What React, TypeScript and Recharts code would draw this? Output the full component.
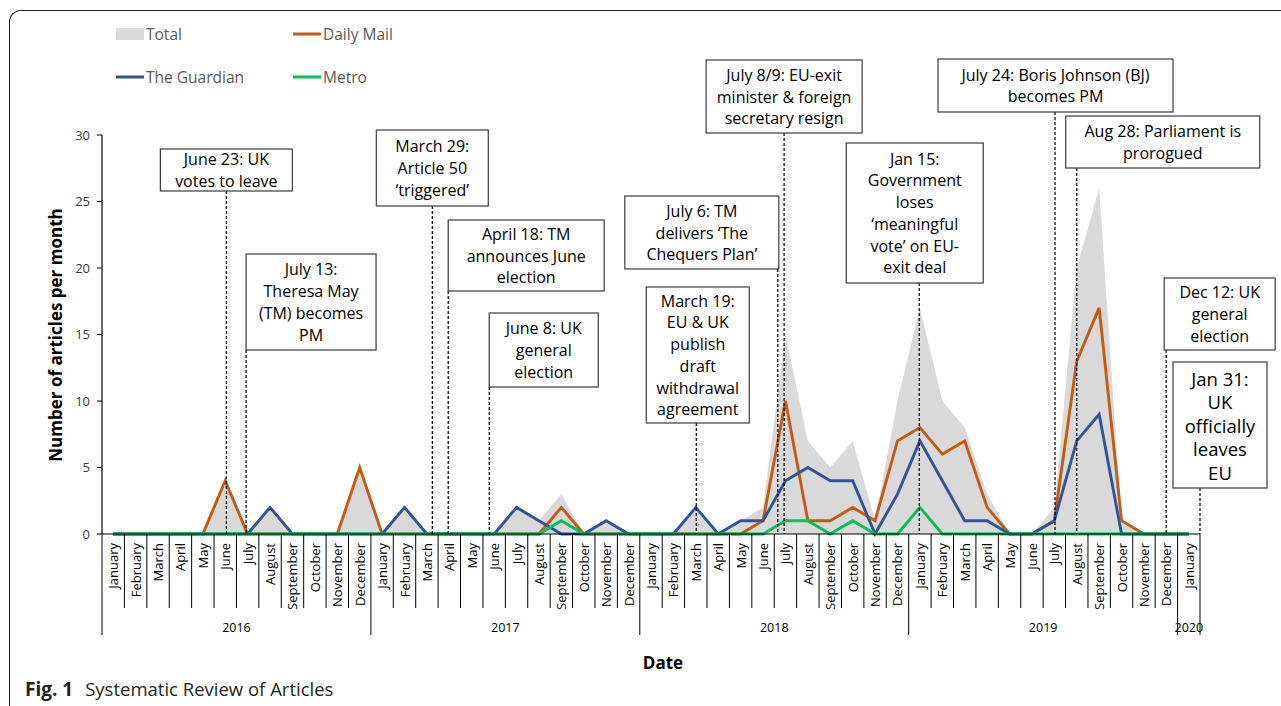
import React from 'react'
import { ComposedChart, Area, Line, XAxis, YAxis, ReferenceLine } from 'recharts'

const MONTH_NAMES = [
  'January', 'February', 'March', 'April', 'May', 'June',
  'July', 'August', 'September', 'October', 'November', 'December',
]
const YEARS = ['2016', '2017', '2018', '2019', '2020']

// one category per month, January 2016 .. January 2020
const MONTHS = YEARS.flatMap((year, yi) =>
  (yi < YEARS.length - 1 ? MONTH_NAMES : MONTH_NAMES.slice(0, 1)).map(month => ({ month, year }))
)

//                2016                          2017                          2018                              2019                              2020
const TOTAL      = [0,0,0,0,0,4,0,2,0,0,0,5,   0,2,0,0,0,0,2,1,3,0,1,0,   0,0,2,0,1,2,15,7,5,7,1,10,   17,10,8,3,0,0,2,20,26,1,0,0,   0]
const DAILY_MAIL = [0,0,0,0,0,4,0,0,0,0,0,5,   0,0,0,0,0,0,0,0,2,0,0,0,   0,0,0,0,0,1,10,1,1,2,1,7,    8,6,7,2,0,0,1,13,17,1,0,0,     0]
const GUARDIAN   = [0,0,0,0,0,0,0,2,0,0,0,0,   0,2,0,0,0,0,2,1,0,0,1,0,   0,0,2,0,1,1,4,5,4,4,0,3,     7,4,1,1,0,0,1,7,9,0,0,0,       0]
const METRO      = [0,0,0,0,0,0,0,0,0,0,0,0,   0,0,0,0,0,0,0,0,1,0,0,0,   0,0,0,0,0,0,1,1,0,1,0,0,     2,0,0,0,0,0,0,0,0,0,0,0,       0]

const Y_TICKS = [0, 5, 10, 15, 20, 25, 30]

const SERIES = [
  { key: 'total', label: 'Total', color: '#d9d9d9' },
  { key: 'dailyMail', label: 'Daily Mail', color: '#c55a11' },
  { key: 'guardian', label: 'The Guardian', color: '#2f5597' },
  { key: 'metro', label: 'Metro', color: '#00c05a' },
]

// event position in month units (0 = January 2016)
const EVENTS = [
  { at: 5.05, text: ['June 23: UK', 'votes to leave'] },
  { at: 5.93, text: ['July 13:', 'Theresa May', '(TM) becomes', 'PM'] },
  { at: 14.24, text: ['March 29:', 'Article 50', '\u2018triggered\u2019'] },
  { at: 14.95, text: ['April 18: TM', 'announces June', 'election'] },
  { at: 16.78, text: ['June 8: UK', 'general', 'election'] },
  { at: 26.02, text: ['March 19:', 'EU & UK', 'publish', 'draft', 'withdrawal', 'agreement'] },
  { at: 29.66, text: ['July 6: TM', 'delivers \u2018The', 'Chequers Plan\u2019'] },
  { at: 29.94, text: ['July 8/9: EU-exit', 'minister & foreign', 'secretary resign'] },
  { at: 35.97, text: ['Jan 15:', 'Government', 'loses', '\u2018meaningful', 'vote\u2019 on EU-', 'exit deal'] },
  { at: 42.03, text: ['July 24: Boris Johnson (BJ)', 'becomes PM'] },
  { at: 43.0, text: ['Aug 28: Parliament is', 'prorogued'] },
  { at: 46.99, text: ['Dec 12: UK', 'general', 'election'] },
  { at: 48.5, text: ['Jan 31:', 'UK', 'officially', 'leaves', 'EU'] },
]

// box geometry, same order as EVENTS (dx = box left relative to the dashed line)
const BOXES = [
  { dx: -66, top: 149, w: 132, h: 42 },
  { dx: 0, top: 254, w: 130, h: 96 },
  { dx: -56, top: 130, w: 112, h: 76 },
  { dx: 0, top: 220, w: 156, h: 71 },
  { dx: 0, top: 313, w: 109, h: 74 },
  { dx: -50, top: 287, w: 103, h: 136 },
  { dx: -153, top: 196, w: 154, h: 73 },
  { dx: -78, top: 60, w: 156, h: 73 },
  { dx: -73, top: 143, w: 137, h: 140 },
  { dx: -117, top: 59, w: 235, h: 53 },
  { dx: -11, top: 116, w: 194, h: 52 },
  { dx: -2, top: 278, w: 111, h: 72 },
  { dx: -27, top: 362, w: 94, h: 126, size: 18.5, lh: 23.5 },
]

const W = 1281
const H = 706
const PLOT_LEFT = 102
const PLOT_RIGHT = 1200
const PLOT_TOP = 135
const PLOT_BOTTOM = 534
const STEP = (PLOT_RIGHT - PLOT_LEFT) / MONTHS.length
const FONT = '"Open Sans", "Noto Sans", sans-serif'

const data = MONTHS.map((m, i) => ({
  i,
  total: TOTAL[i],
  dailyMail: DAILY_MAIL[i],
  guardian: GUARDIAN[i],
  metro: METRO[i],
}))

function MonthTick(props: any) {
  const { x, y, payload } = props
  const i = payload.value
  const m = MONTHS[i]
  if (!m) return null
  const left = x - STEP / 2
  const right = x + STEP / 2
  const last = i === MONTHS.length - 1
  const yearStart = i % 12 === 0
  return (
    <g>
      <line x1={left} x2={left} y1={y} y2={y + (yearStart ? 101 : 74)} stroke="#000" strokeWidth={1} />
      {last && <line x1={right} x2={right} y1={y} y2={y + 101} stroke="#000" strokeWidth={1} />}
      <text
        transform={`translate(${x},${y + 9}) rotate(-90)`}
        textAnchor="end"
        dominantBaseline="central"
        fontSize={13}
        fontFamily={FONT}
        fill="#000"
      >
        {m.month}
      </text>
      {(i % 12 === 5 || last) && (
        <text
          x={last ? x : right}
          y={y + 93}
          textAnchor="middle"
          dominantBaseline="central"
          fontSize={12.5}
          fontFamily={FONT}
          fill="#000"
        >
          {m.year}
        </text>
      )}
    </g>
  )
}

function EventMarker(props: any) {
  const { x1, y1, y2, event, box } = props
  const size = box.size || 16
  const lh = box.lh || 21.7
  const left = x1 + box.dx
  const bottom = box.top + box.h
  const cy = box.top + box.h / 2
  const n = event.text.length
  return (
    <g>
      <line
        x1={x1} x2={x1} y1={bottom} y2={Math.max(y1, y2)}
        stroke="#000" strokeWidth={1.2} strokeDasharray="3 2"
      />
      <rect x={left} y={box.top} width={box.w} height={box.h} fill="#fff" stroke="#3a3a3a" strokeWidth={1.2} />
      {event.text.map((t: string, k: number) => (
        <text
          key={k}
          x={left + box.w / 2}
          y={cy + (k - (n - 1) / 2) * lh}
          textAnchor="middle"
          dominantBaseline="central"
          fontSize={size}
          fontFamily={FONT}
          fill="#000"
        >
          {t}
        </text>
      ))}
    </g>
  )
}

function LegendBox() {
  const spots = [
    { x: 116, y: 34 },
    { x: 293, y: 34 },
    { x: 116, y: 77 },
    { x: 293, y: 77 },
  ]
  return (
    <svg width={400} height={100} style={{ position: 'absolute', left: 0, top: 0 }}>
      {SERIES.map((s, k) => {
        const p = spots[k]
        return (
          <g key={s.key}>
            {s.key === 'total' ? (
              <rect x={p.x} y={p.y - 6} width={28} height={12} fill={s.color} />
            ) : (
              <line x1={p.x} x2={p.x + 28} y1={p.y} y2={p.y} stroke={s.color} strokeWidth={3} />
            )}
            <text x={p.x + 30} y={p.y} dominantBaseline="central" fontSize={15.5} fontFamily={FONT} fill="#595959">
              {s.label}
            </text>
          </g>
        )
      })}
    </svg>
  )
}

export default function App() {
  const lines = SERIES.filter(s => s.key !== 'total')
  return (
    <div style={{ position: 'absolute', left: 0, top: 0, width: W, height: H, overflow: 'hidden', background: '#fff', fontFamily: FONT }}>
      <div
        style={{
          position: 'absolute', left: 9, top: 10, width: 1400, height: 900,
          borderTop: '1.5px solid #1a1a1a', borderLeft: '1.5px solid #1a1a1a', borderTopLeftRadius: 12,
        }}
      />
      <div style={{ position: 'absolute', left: 0, top: 0 }}>
        <ComposedChart
          width={W}
          height={H}
          data={data}
          margin={{ top: PLOT_TOP, right: W - PLOT_RIGHT, bottom: 0, left: 0 }}
        >
          <XAxis
            dataKey="i"
            type="number"
            domain={[-0.5, MONTHS.length - 0.5]}
            allowDataOverflow
            ticks={MONTHS.map((_, i) => i)}
            interval={0}
            height={H - PLOT_BOTTOM}
            tickLine={false}
            tickSize={0}
            tickMargin={0}
            axisLine={{ stroke: '#000', strokeWidth: 1 }}
            tick={<MonthTick />}
          />
          <YAxis
            domain={[0, 30]}
            ticks={Y_TICKS}
            width={PLOT_LEFT}
            tickSize={5}
            tickMargin={7}
            axisLine={{ stroke: '#000', strokeWidth: 1.2 }}
            tickLine={{ stroke: '#000' }}
            tick={{ fontSize: 13, fill: '#3a3a3a', fontFamily: FONT }}
          />
          <Area
            type="linear"
            dataKey="total"
            fill="#d9d9d9"
            fillOpacity={1}
            stroke="none"
            isAnimationActive={false}
          />
          {lines.map(s => (
            <Line
              key={s.key}
              type="linear"
              dataKey={s.key}
              stroke={s.color}
              strokeWidth={2.9}
              dot={false}
              activeDot={false}
              isAnimationActive={false}
            />
          ))}
          {EVENTS.map((ev, k) => (
            <ReferenceLine
              key={k}
              x={ev.at}
              ifOverflow="visible"
              shape={(p: any) => <EventMarker {...p} event={ev} box={BOXES[k]} />}
            />
          ))}
        </ComposedChart>
      </div>
      <LegendBox />
      <div
        style={{
          position: 'absolute', left: 55, top: 335, transform: 'translate(-50%, -50%) rotate(-90deg)',
          whiteSpace: 'nowrap', fontSize: 17, fontWeight: 700, color: '#000',
        }}
      >
        Number of articles per month
      </div>
      <div
        style={{
          position: 'absolute', left: 663, top: 662, transform: 'translate(-50%, -50%)',
          fontSize: 17, fontWeight: 700, color: '#000',
        }}
      >
        Date
      </div>
      <div style={{ position: 'absolute', left: 25, top: 676, fontSize: 18.5, color: '#231f20', whiteSpace: 'nowrap' }}>
        <b style={{ fontSize: 19 }}>Fig. 1</b>
        <span style={{ marginLeft: 12 }}>Systematic Review of Articles</span>
      </div>
    </div>
  )
}
